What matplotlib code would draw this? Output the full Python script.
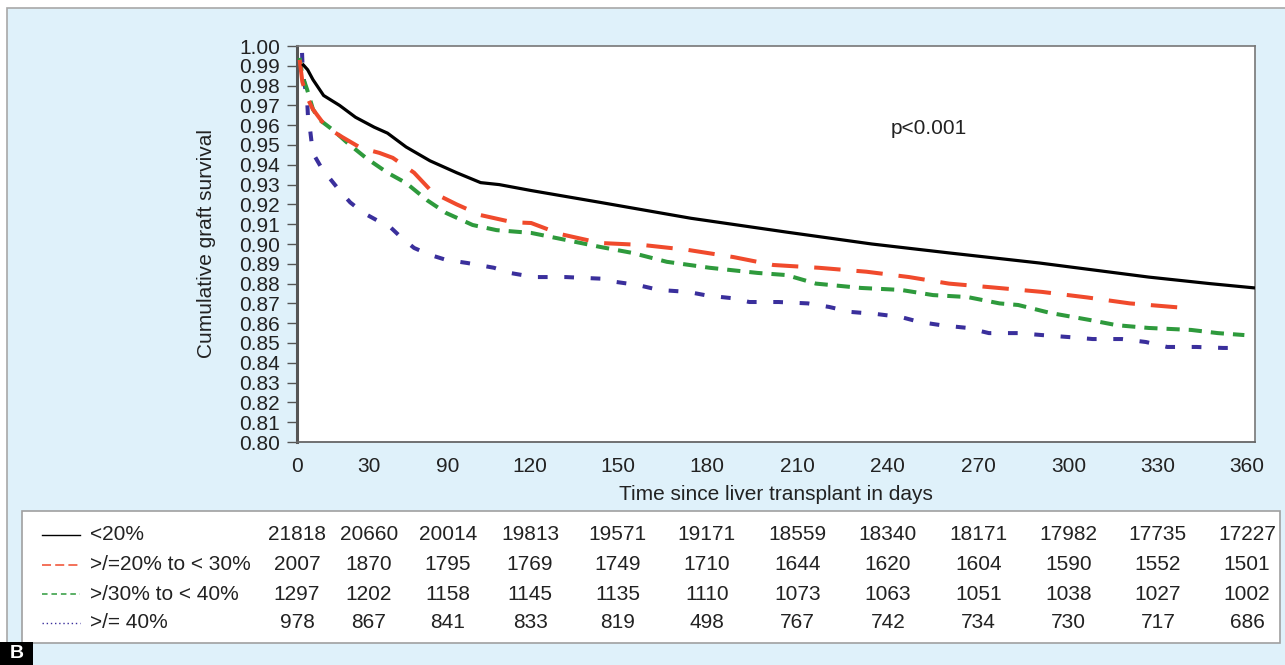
import matplotlib
matplotlib.use("Agg")
import matplotlib.pyplot as plt
import matplotlib.transforms as mtransforms
from matplotlib.patches import Rectangle
from matplotlib.lines import Line2D

plt.rcParams['font.family'] = ['Liberation Sans', 'DejaVu Sans']
plt.rcParams['lines.scale_dashes'] = False

# ---------------- data ----------------
groups = ["<20%", ">/=20% to < 30%", ">/30% to < 40%", ">/= 40%"]

black_days = [2, 4, 6, 10, 16, 22, 29, 34, 41, 50, 60, 69, 76, 88, 114, 148, 184,
              216, 245, 279, 320, 343, 360]
black_surv = [0.991, 0.988, 0.983, 0.975, 0.970, 0.964, 0.959, 0.956, 0.949, 0.942,
              0.936, 0.931, 0.930, 0.927, 0.921, 0.913, 0.906, 0.900, 0.8955, 0.8904,
              0.8833, 0.880, 0.8778]

red_days = [1, 2, 3.8, 6, 11, 17, 24, 31, 36, 44, 51, 60, 69, 81, 88, 99, 114, 130,
            147, 164, 179, 196, 214, 230, 245, 262, 280, 297, 313, 331, 336]
red_surv = [0.993, 0.982, 0.974, 0.968, 0.959, 0.954, 0.9485, 0.946, 0.9435, 0.936,
            0.926, 0.920, 0.9146, 0.911, 0.9106, 0.905, 0.9005, 0.8995, 0.897, 0.8934,
            0.8894, 0.888, 0.886, 0.8833, 0.880, 0.878, 0.8758, 0.873, 0.870, 0.868,
            0.8677]

green_days = [1, 2, 3.8, 6, 8.6, 13.5, 19, 26, 34, 41, 49, 56, 66, 75, 88, 114, 126,
              139, 155, 173, 184, 195, 212, 227, 239, 252, 264, 271, 283, 298, 308,
              320, 336, 346, 356]
green_surv = [0.994, 0.985, 0.978, 0.968, 0.9626, 0.9576, 0.951, 0.9434, 0.936, 0.9308,
              0.922, 0.9157, 0.9096, 0.907, 0.9056, 0.8985, 0.8955, 0.891, 0.888,
              0.8854, 0.8843, 0.880, 0.8778, 0.8768, 0.8742, 0.8732, 0.870, 0.8692,
              0.8652, 0.8616, 0.859, 0.8576, 0.8566, 0.855, 0.854]

blue_days = [1.9, 2.2, 3.8, 4.1, 4.9, 5.6, 6.8, 9.4, 12.4, 16, 20, 25, 30, 35, 39, 44,
             50, 56, 64, 74, 80, 89, 101, 114, 119, 128, 136, 147, 154, 163, 170, 181,
             192, 200, 208, 218, 227, 234, 242, 252, 260, 271, 280, 290, 299, 310, 319,
             327, 338, 348, 350]
blue_surv = [0.9965, 0.986, 0.973, 0.965, 0.958, 0.950, 0.944, 0.938, 0.933, 0.927,
             0.921, 0.9157, 0.912, 0.9086, 0.9035, 0.898, 0.8945, 0.892, 0.8904, 0.888,
             0.8854, 0.8833, 0.8833, 0.8825, 0.881, 0.8793, 0.8768, 0.8758, 0.874,
             0.8727, 0.8707, 0.8707, 0.870, 0.8682, 0.8657, 0.8646, 0.8631, 0.8606,
             0.859, 0.8576, 0.855, 0.855, 0.854, 0.853, 0.852, 0.852, 0.8505, 0.848,
             0.848, 0.8475, 0.8475]

xtick_labels = ["0", "30", "90", "120", "150", "180", "210", "240", "270", "300", "330", "360"]
ytick_values = [0.80 + 0.01 * i for i in range(21)]

risk_lt20 = [21818, 20660, 20014, 19813, 19571, 19171, 18559, 18340, 18171, 17982, 17735, 17227]
risk_20_30 = [2007, 1870, 1795, 1769, 1749, 1710, 1644, 1620, 1604, 1590, 1552, 1501]
risk_30_40 = [1297, 1202, 1158, 1145, 1135, 1110, 1073, 1063, 1051, 1038, 1027, 1002]
risk_ge40 = [978, 867, 841, 833, 819, 498, 767, 742, 734, 730, 717, 686]

p_text = "p<0.001"

# ---------------- layout ----------------
W, H = 1285, 665
xtick_pos = [0, 27, 56.7, 87.6, 120.6, 154, 188, 222, 256, 290, 323.5, 357]  # label placement (days)

fig = plt.figure(figsize=(W / 100, H / 100), dpi=100)
fig.patch.set_facecolor('white')

bg = Rectangle((7 / W, -0.05), 1.2, 1 - 8 / H + 0.05, transform=fig.transFigure,
               facecolor='#dff1fa', edgecolor='#a8a8a8', linewidth=1.2, zorder=-10)
fig.patches.append(bg)

ax = fig.add_axes([297 / W, 1 - 442 / H, (1255 - 297) / W, (442 - 46) / H])
ax.set_zorder(2)
ax.set_facecolor('white')
ax.set_xlim(0, 360)
ax.set_ylim(0.80, 1.00)

c_black = '#000000'
c_red = '#f04a2c'
c_green = '#2e9a3c'
c_blue = '#3a2f9c'

ax.plot(black_days, black_surv, color=c_black, lw=2.3, solid_capstyle='butt', zorder=5)
ax.plot(red_days, red_surv, color=c_red, lw=2.9, dashes=(19, 11.5), zorder=4)
ax.plot(green_days, green_surv, color=c_green, lw=2.9, dashes=(9.5, 6.5), zorder=3)
ax.plot(blue_days, blue_surv, color=c_blue, lw=2.9, dashes=(7, 12), zorder=2)

ax.text(223, 0.9585, p_text, fontsize=15, color='#222222', va='center', ha='left')

ax.set_yticks(ytick_values)
ax.set_yticklabels([f"{v:.2f}" for v in ytick_values])
ax.set_xticks(xtick_pos)
ax.set_xticklabels(xtick_labels)
ax.tick_params(axis='y', direction='out', length=7.2, width=1.0, color='#555555',
               pad=5, labelsize=15, labelcolor='#222222')
ax.tick_params(axis='x', length=0, pad=11, labelsize=15, labelcolor='#222222')

ax.spines['left'].set_color('#555555')
ax.spines['left'].set_linewidth(2.2)
ax.spines['bottom'].set_color('#666666')
ax.spines['bottom'].set_linewidth(1.3)
for s in ('top', 'right'):
    ax.spines[s].set_color('#777777')
    ax.spines[s].set_linewidth(1.2)

fig.text(207 / W, 1 - 243 / H, "Cumulative graft survival", rotation=90,
         fontsize=15, color='#222222', ha='center', va='center')
fig.text(776 / W, 1 - 494 / H, "Time since liver transplant in days",
         fontsize=15, color='#222222', ha='center', va='center')

# ---------------- number-at-risk table ----------------
tbl = Rectangle((22 / W, 1 - 643 / H), (1280 - 22) / W, (643 - 511) / H,
                transform=fig.transFigure, facecolor='white', edgecolor='#a0a0a0',
                linewidth=1.2, zorder=1)
fig.patches.append(tbl)

row_y = [535, 565, 594, 623]
risk_rows = [risk_lt20, risk_20_30, risk_30_40, risk_ge40]
legend_styles = [
    dict(color=c_black, lw=1.0, linestyle='-'),
    dict(color=c_red, lw=1.1, dashes=(6.5, 3)),
    dict(color=c_green, lw=1.1, dashes=(4, 2.8)),
    dict(color=c_blue, lw=1.0, dashes=(1, 2)),
]
blend = mtransforms.blended_transform_factory(ax.transData, fig.transFigure)
for name, yy, vals, st in zip(groups, row_y, risk_rows, legend_styles):
    yf = 1 - yy / H
    fig.lines.append(Line2D([42 / W, 80 / W], [yf, yf], transform=fig.transFigure,
                            zorder=3, **st))
    fig.text(90 / W, yf, name, fontsize=15, color='#222222', ha='left', va='center',
             zorder=3)
    for xp, v in zip(xtick_pos, vals):
        fig.text(xp, yf, str(v), transform=blend, fontsize=15, color='#222222',
                 ha='center', va='center', zorder=3)

# panel letter
fig.patches.append(Rectangle((0, 0), 33 / W, 23 / H, transform=fig.transFigure,
                             facecolor='black', edgecolor='none', zorder=4))
fig.text(16.5 / W, 11 / H, "B", fontsize=14, fontweight='bold', color='white',
         ha='center', va='center', zorder=5)

fig.savefig("out.png", dpi=100, facecolor=fig.get_facecolor())
